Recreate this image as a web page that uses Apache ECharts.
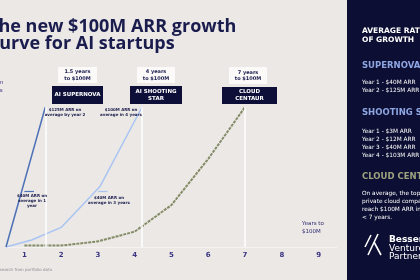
<!DOCTYPE html>
<html>
<head>
<meta charset="utf-8">
<script src="https://cdn.jsdelivr.net/npm/echarts@6/dist/echarts.min.js"></script>
<style>
    html, body { margin: 0; padding: 0; background: #ebe8e5; }
    #growthChart { width: 420px; height: 280px; }
</style>
</head>
<body>
<div id="growthChart"></div>
<script>
// 数据：横轴为年份，纵轴为 ARR（百万美元）
let yearTicks = [1, 2, 3, 4, 5, 6, 7, 8, 9];

let supernovaYears = [0.5, 1.57];
let supernovaArr = [0, 100];

let shootingYears = [0.5, 1.2, 2, 3.05, 4.2];
let shootingArr = [0, 5, 14, 43, 100];

let centaurYears = [1, 2, 3, 4, 5, 6, 7];
let centaurArr = [1, 1, 4, 11, 30, 63, 100];

// 达到 $100M 的年份（白色竖线）
let milestoneYears = [1.58, 4.2, 7];
// 小标记：[年份, ARR]
let supernovaMark = [1, 40];
let shootingMark = [3, 40];

let navy = '#1a1c4e';
let panelColor = '#0c0e33';
let fontName = 'DejaVu Sans';

function zipPoints(xs, ys) {
    return xs.map(function (x, i) { return [x, ys[i]]; });
}

function milestoneLine(year) {
    return [{coord: [year, 0]}, {coord: [year, 100]}];
}

function tickLine(mark, color) {
    return [
        {coord: [mark[0], mark[1]], lineStyle: {color: color, width: 1.2, type: 'solid'}},
        {coord: [mark[0] + 0.26, mark[1]]}
    ];
}

/**
 * 初始化增长曲线图表
 */
function initGrowthChart() {
    let growthChart = echarts.init(document.getElementById('growthChart'));

    // 文字与标注框
    let labelBox = function (x, y, w, h, fill, text, color, size, lh) {
        return [
            {type: 'rect', shape: {x: x, y: y, width: w, height: h}, style: {fill: fill}, z: 10},
            {type: 'text', x: x + w / 2, y: y + h / 2, z: 11, style: {
                text: text, fill: color, font: 'bold ' + size + 'px "' + fontName + '"',
                align: 'center', verticalAlign: 'middle', lineHeight: lh
            }}
        ];
    };
    let smallText = function (x, y, text, size, color, align, weight, lh) {
        return {type: 'text', x: x, y: y, z: 11, style: {
            text: text, fill: color, font: (weight || 'normal') + ' ' + size + 'px "' + fontName + '"',
            align: align || 'center', verticalAlign: 'top', lineHeight: lh || size * 1.1
        }};
    };

    let graphics = [];
    // 标题
    graphics.push({type: 'text', x: -12, y: 27, z: 11, style: {
        text: 'The new $100M ARR growth', fill: navy, font: 'bold 18px "Open Sans"', verticalAlign: 'middle'
    }});
    graphics.push({type: 'text', x: -10, y: 44, z: 11, style: {
        text: 'curve for AI startups', fill: navy, font: 'bold 18px "Open Sans"', verticalAlign: 'middle'
    }});
    // 左侧被截断的说明
    graphics.push(smallText(3.5, 80, 'ARR in', 5.5, '#3a3583', 'right'));
    graphics.push(smallText(2.5, 88, 'years', 5.5, '#3a3583', 'right'));
    graphics.push(smallText(52, 268, 'Source: Bessemer research from portfolio data', 4, '#8c8a93', 'right'));

    // 标注框
    graphics = graphics.concat(labelBox(58, 67, 39, 16, '#fbfaf8', '1.5 years\nto $100M', navy, 5, 6.5));
    graphics = graphics.concat(labelBox(52, 86, 51, 18, '#0d0f38', 'AI SUPERNOVA', '#ffffff', 5.5, 7));
    graphics = graphics.concat(labelBox(137, 67, 38, 16, '#fbfaf8', '4 years\nto $100M', navy, 5, 6.5));
    graphics = graphics.concat(labelBox(130, 86, 52, 18, '#0d0f38', 'AI SHOOTING\nSTAR', '#ffffff', 5.5, 7));
    graphics = graphics.concat(labelBox(229, 67, 38, 17, '#fbfaf8', '7 years\nto $100M', navy, 5, 6.5));
    graphics = graphics.concat(labelBox(222, 87, 55, 17, '#0d0f38', 'CLOUD\nCENTAUR', '#ffffff', 5.5, 7));

    // 小注释
    graphics.push(smallText(65, 108, '$125M ARR on\naverage by year 2', 4, navy, 'center', 'bold', 4.6));
    graphics.push(smallText(121, 108, '$100M ARR on\naverage in 4 years', 4, navy, 'center', 'bold', 4.6));
    graphics.push(smallText(32, 194, '$40M ARR on\naverage in 1\nyear', 4, navy, 'center', 'bold', 4.6));
    graphics.push(smallText(109, 196, '$40M ARR on\naverage in 3 years', 4, navy, 'center', 'bold', 4.6));
    graphics.push(smallText(302, 220, 'Years to\n$100M', 5.5, '#2f2b72', 'left', 'normal', 7.5));

    // 右侧面板
    graphics.push({type: 'rect', shape: {x: 347, y: 0, width: 73, height: 280}, style: {fill: panelColor}, z: 5});
    graphics.push(smallText(362, 26, 'AVERAGE RATE\nOF GROWTH', 7.5, '#ffffff', 'left', 'bold', 9.5));
    graphics.push(smallText(362, 61, 'SUPERNOVAS', 8.5, '#8ea6e2', 'left', 'bold'));
    graphics.push(smallText(362, 79, 'Year 1 - $40M ARR\nYear 2 - $125M ARR', 5.8, '#ffffff', 'left', 'normal', 7.7));
    graphics.push(smallText(362, 108, 'SHOOTING STARS', 8.5, '#8ea6e2', 'left', 'bold'));
    graphics.push(smallText(362, 127, 'Year 1 - $3M ARR\nYear 2 - $12M ARR\nYear 3 - $40M ARR\nYear 4 - $103M ARR', 5.8, '#ffffff', 'left', 'normal', 8.2));
    graphics.push(smallText(362, 172, 'CLOUD CENTAURS', 8.5, '#9da37e', 'left', 'bold'));
    graphics.push(smallText(362, 189, 'On average, the top\nprivate cloud companies\nreach $100M ARR in\n< 7 years.', 5.8, '#ffffff', 'left', 'normal', 8));
    // 标志
    let logoLines = [
        [[365, 247], [371, 235]],
        [[368, 255], [378, 234]],
        [[374, 242], [381, 255]]
    ];
    logoLines.forEach(function (pts) {
        graphics.push({type: 'polyline', shape: {points: pts}, style: {stroke: '#ffffff', lineWidth: 1.6}, z: 11});
    });
    graphics.push(smallText(389, 235, 'Bessemer', 9, '#ffffff', 'left', 'bold'));
    graphics.push(smallText(389, 244, 'Venture\nPartners', 9, '#ffffff', 'left', 'normal', 8.7));

    // 指定图表的配置项和数据
    let growthChartOption = {
        animation: false,
        backgroundColor: '#ebe8e5',
        grid: {
            left: 6,
            right: 83,
            top: 107,
            bottom: 33,
            outerBoundsMode: 'none'
        },
        xAxis: {
            type: 'value',
            min: 0.5,
            max: 9.5,
            interval: 0.5,
            axisLine: {show: true, lineStyle: {color: '#f5f3f1', width: 1}},
            axisTick: {show: false},
            splitLine: {show: false},
            axisLabel: {
                margin: 5,
                fontSize: 7,
                fontWeight: 'bold',
                fontFamily: fontName,
                color: '#3a3583',
                formatter: function (v) {
                    return yearTicks.indexOf(v) >= 0 ? String(v) : '';
                }
            }
        },
        yAxis: {
            type: 'value',
            min: 0,
            max: 100,
            show: false
        },
        series: [
            {
                name: 'Cloud Centaur',
                type: 'line',
                symbol: 'none',
                data: zipPoints(centaurYears, centaurArr),
                lineStyle: {color: '#838b67', width: 2, type: [3, 1]},
                markLine: {
                    silent: true,
                    symbol: ['none', 'none'],
                    label: {show: false},
                    lineStyle: {color: '#ffffff', width: 1.5, type: 'solid'},
                    data: [milestoneLine(milestoneYears[2])]
                }
            },
            {
                name: 'AI Shooting Star',
                type: 'line',
                symbol: 'none',
                data: zipPoints(shootingYears, shootingArr),
                lineStyle: {color: '#a9c4f3', width: 1.5},
                markLine: {
                    silent: true,
                    symbol: ['none', 'none'],
                    label: {show: false},
                    lineStyle: {color: '#ffffff', width: 1.5, type: 'solid'},
                    data: [milestoneLine(milestoneYears[1]), tickLine(shootingMark, '#a9c4f3')]
                }
            },
            {
                name: 'AI Supernova',
                type: 'line',
                symbol: 'none',
                data: zipPoints(supernovaYears, supernovaArr),
                lineStyle: {color: '#4d71b7', width: 1.5},
                markLine: {
                    silent: true,
                    symbol: ['none', 'none'],
                    label: {show: false},
                    lineStyle: {color: '#ffffff', width: 1.5, type: 'solid'},
                    data: [milestoneLine(milestoneYears[0]), tickLine(supernovaMark, '#4d71b7')]
                }
            }
        ],
        graphic: graphics
    };

    // 使用刚指定的配置项和数据显示图表。
    growthChart.setOption(growthChartOption);
}

initGrowthChart();
</script>
</body>
</html>
